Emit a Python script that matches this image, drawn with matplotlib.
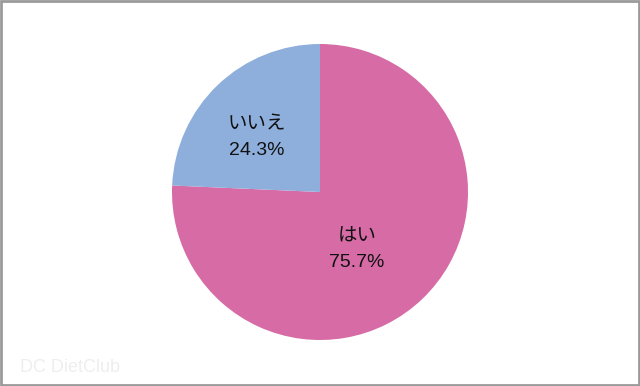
import matplotlib.pyplot as plt
from matplotlib.patches import Rectangle

plt.rcParams["font.family"] = ["Liberation Sans", "Noto Sans CJK JP", "DejaVu Sans"]

labels = ["はい", "いいえ"]
values = [75.7, 24.3]
colors = ["#D66BA6", "#8EAFDC"]
label_pos = [(37, -57), (-63, 55)]

fig = plt.figure(figsize=(6.4, 3.86), dpi=100)
ax = fig.add_axes([0, 0, 1, 1])

ax.pie(values, colors=colors, startangle=90, counterclock=False,
       radius=148, center=(0, 1), frame=True)
ax.set_xlim(-320, 320)
ax.set_ylim(-193, 193)
ax.set_aspect("equal")
ax.axis("off")

for lab, val, (x, y) in zip(labels, values, label_pos):
    ax.text(x, y, f"{lab}\n{val:.1f}%", ha="center", va="center",
            fontsize=14, linespacing=1.65, color="#111111")

# watermark
ax.text(-300, -175, "DC DietClub", fontsize=13, color="#EEEEEE",
        ha="left", va="center")

fig.add_artist(Rectangle((0.0015, 0.0025), 0.997, 0.995, transform=fig.transFigure,
                         fill=False, edgecolor="#9A9A9A", linewidth=2))

fig.savefig("out.png", dpi=100)
